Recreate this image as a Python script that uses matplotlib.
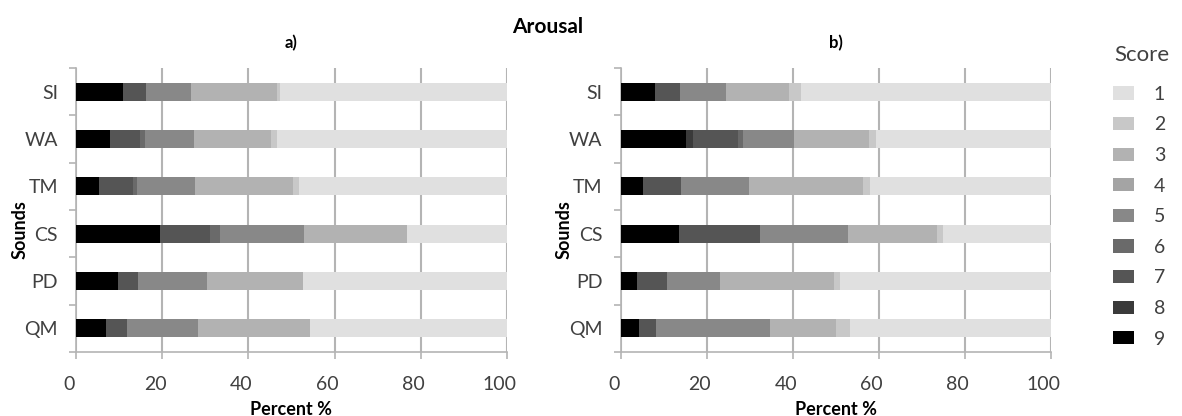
import matplotlib
matplotlib.use('Agg')
import matplotlib.pyplot as plt
import matplotlib.transforms as mtransforms
from matplotlib.patches import Patch
import numpy as np

plt.rcParams['font.family'] = ['Lato', 'DejaVu Sans']

sounds = ['SI', 'WA', 'TM', 'CS', 'PD', 'QM']
scores = [9, 8, 7, 6, 5, 4, 3, 2, 1]
score_colors = ['#000000', '#3a3a3a', '#555555', '#6a6a6a', '#888888',
                '#a4a4a4', '#b2b2b2', '#c8c8c8', '#e0e0e0']

# percent per score (9 .. 1) for each sound, panel a)
a_SI = [10.8, 0, 5.5, 0, 10.4, 0, 19.9, 0.8, 52.6]
a_WA = [7.9, 0, 7.0, 1.1, 11.4, 0, 17.8, 1.5, 53.3]
a_TM = [5.4, 0, 7.9, 0.9, 13.4, 0, 22.7, 1.4, 48.3]
a_CS = [19.5, 0, 11.6, 2.3, 19.4, 0, 24.1, 0, 23.1]
a_PD = [9.8, 0, 4.5, 0, 16.0, 0, 22.3, 0, 47.4]
a_QM = [6.9, 0, 4.9, 0, 16.6, 0, 25.9, 0, 45.7]

# panel b)
b_SI = [8.0, 0, 5.8, 0, 10.7, 0, 14.7, 2.7, 58.1]
b_WA = [15.3, 1.6, 10.5, 1.1, 11.8, 0, 17.5, 1.6, 40.6]
b_TM = [5.3, 0, 8.7, 0, 15.9, 0, 26.5, 1.6, 42.0]
b_CS = [13.6, 0, 18.8, 0, 20.5, 0, 20.6, 1.5, 25.0]
b_PD = [3.7, 0, 7.0, 0, 12.4, 0, 26.4, 1.5, 49.0]
b_QM = [4.3, 0, 3.9, 0, 26.5, 0, 15.4, 3.2, 46.7]

panel_a = [a_SI, a_WA, a_TM, a_CS, a_PD, a_QM]
panel_b = [b_SI, b_WA, b_TM, b_CS, b_PD, b_QM]

text_col = '#404040'
grid_col = '#b4b4b4'


def draw_panel(ax, rows, fig):
    data = np.array(rows, dtype=float)
    y = np.arange(len(sounds))[::-1]
    left = np.zeros(len(sounds))
    for i, s in enumerate(scores):
        ax.barh(y, data[:, i], left=left, height=0.38, color=score_colors[i],
                edgecolor='none', zorder=3)
        left += data[:, i]

    ax.set_xlim(0, 100)
    ax.set_ylim(-0.5, len(sounds) - 0.5)
    ax.set_xticks([0, 20, 40, 60, 80, 100])
    ax.set_yticks(y)
    ax.set_yticklabels(sounds)
    ax.set_yticks(np.arange(-0.5, len(sounds), 1), minor=True)
    ax.tick_params(axis='y', which='major', length=0, pad=13,
                   labelsize=14, labelcolor=text_col)
    ax.tick_params(axis='y', which='minor', length=5, color=grid_col, width=1.2)
    ax.tick_params(axis='x', length=5, color=grid_col, width=1.2, pad=12,
                   labelsize=14, labelcolor=text_col)
    ax.grid(axis='x', color=grid_col, linewidth=1.5, zorder=0)
    for sp in ['top', 'right']:
        ax.spines[sp].set_visible(False)
    for sp in ['left', 'bottom']:
        ax.spines[sp].set_color(grid_col)
        ax.spines[sp].set_linewidth(1.2)

    # Excel shifts the tick labels a bit to the left
    offset = mtransforms.ScaledTranslation(-7 / 100, 0, fig.dpi_scale_trans)
    for t in ax.get_xticklabels():
        t.set_transform(t.get_transform() + offset)

    ax.set_xlabel('Percent %', fontsize=13, fontweight='bold')
    ax.set_ylabel('Sounds', fontsize=13, fontweight='bold')
    ax.xaxis.set_label_coords(0.5, -0.172)
    ax.yaxis.set_label_coords(-0.111, 0.43)


fig = plt.figure(figsize=(11.82, 4.16), dpi=100)
ax1 = fig.add_axes([0.0643, 0.1538, 0.3646, 0.6827])
ax2 = fig.add_axes([0.5251, 0.1538, 0.3638, 0.6827])

draw_panel(ax1, panel_a, fig)
draw_panel(ax2, panel_b, fig)

fig.text(0.4636, 0.936, 'Arousal', ha='center', va='center',
         fontsize=15, fontweight='bold')
fig.text(0.2466, 0.897, 'a)', ha='center', va='center',
         fontsize=12, fontweight='bold')
fig.text(0.7070, 0.897, 'b)', ha='center', va='center',
         fontsize=12, fontweight='bold')

handles = [Patch(facecolor=score_colors[i], edgecolor='none') for i in range(len(scores))][::-1]
labels = [str(s) for s in scores][::-1]
fig.text(1142 / 1182, 1 - 55 / 416, 'Score', ha='center', va='center',
         fontsize=16, color=text_col)
leg = fig.legend(handles, labels, loc='upper left',
                 bbox_to_anchor=(0.935, 1 - 78 / 416), frameon=False, fontsize=14,
                 handlelength=1.1, handleheight=0.67,
                 labelspacing=0.70, handletextpad=1.0, borderaxespad=0)
for t in leg.get_texts():
    t.set_color(text_col)

fig.savefig('out.png', dpi=100)
